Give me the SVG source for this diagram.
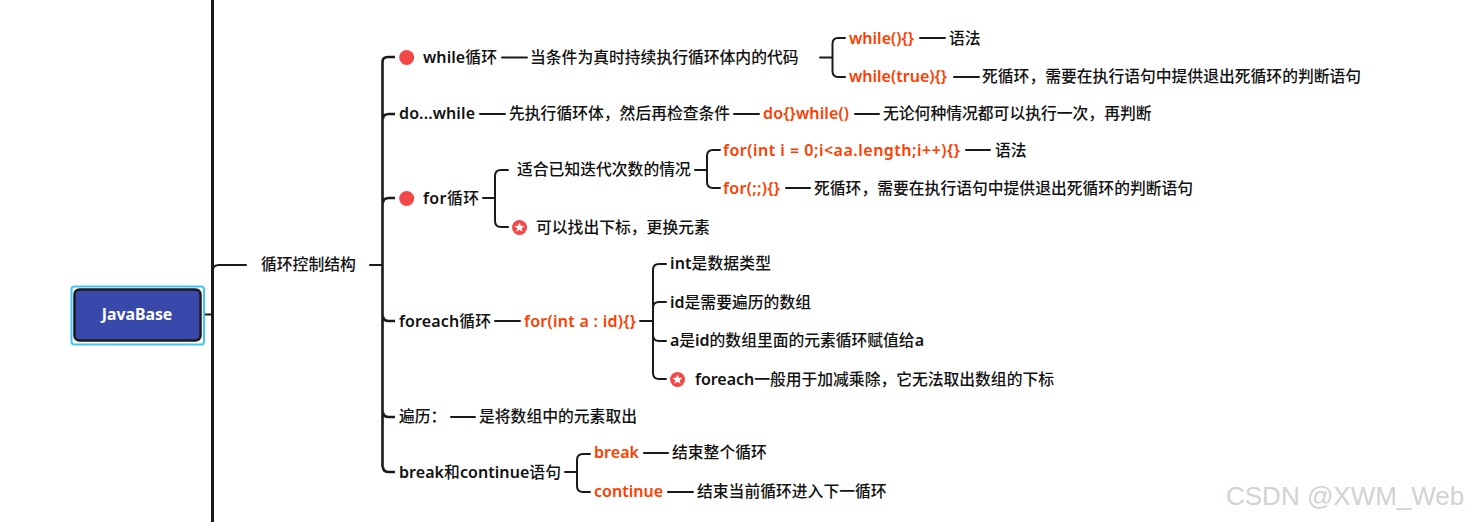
<svg xmlns="http://www.w3.org/2000/svg" width="1470" height="522" viewBox="0 0 1470 522">
<style>
text{font-family:"Noto Sans","Noto Sans CJK SC",sans-serif;font-size:15.8px;font-weight:500;fill:#111}
.r{fill:#ff3d00;font-weight:600;font-size:16px}
.b{font-weight:600;font-size:16px}
.l{fill:none;stroke:#1a1a1a;stroke-width:2;stroke-linecap:round}
.m{fill:none;stroke:#1a1a1a;stroke-width:2.6}
.d{fill:#f44848}
.s{fill:#fff}
</style>
<defs>
<g id="star"><circle class="d" r="7.5"/><path class="s" d="M0-5 1.4-1.7 5-1.5 2.2.8 3.1 4.2 0 2.3-3.1 4.2-2.2.8-5-1.5-1.4-1.7Z"/></g>
</defs>
<rect width="1470" height="522" fill="#fff"/>
<g id="connectors">
<path class="m" style="stroke-width:3" d="M212.5 0V522"/>
<path class="l" d="M202 314.500H212M213 270Q213 265 219 265H246M370 265H382"/>
<path class="m" d="M382.500 467V62Q382.500 57 388 57H395M383 119Q383 114 389 114H395M383 203Q383 198 389 198H395M383 316Q383 321 389 321H395M383 412Q383 417 389 417H395M383 467Q383 472 389 472H395"/>
<path class="l" d="M502 57.500H527M820 57.500H832M845 38H838Q832.500 38 832.500 44V71Q832.500 77 838 77H845M920 38H945M954 77H979"/>
<path class="l" d="M480 114H505M734 114H759M855 114H879"/>
<path class="l" d="M483 198H495M508 170H501Q495 170 495 176V221Q495 227 501 227H508M695 170H707M720 150H713Q707 150 707 156V182Q707 188 713 188H720M966 150H990M786 188H810"/>
<path class="l" d="M495 321H520M640 321H653M666 264H659Q653 264 653 270V373Q653 379 659 379H666M653 308Q653 302 659 302H666M653 335Q653 341 659 341H666"/>
<path class="l" d="M451 417H475"/>
<path class="l" d="M565 472H577M590 454H583Q577 454 577 460V486Q577 492 583 492H590M644 453H668M668 492H693"/>
</g>
<g id="root">
<rect x="71.500" y="286.500" width="132.500" height="58" rx="3" fill="#fff" stroke="#40c4ff" stroke-width="2"/>
<rect x="74.500" y="289.500" width="126" height="51" rx="5" fill="#3949ab" stroke="#1a1a1a" stroke-width="2.500"/>
<text x="137" y="319.500" text-anchor="middle" style="fill:#fff;font-weight:700">JavaBase</text>
</g>
<g id="n-loop"><text x="261" y="270">循环控制结构</text></g>
<g id="n-while"><circle class="d" cx="406.700" cy="57.500" r="7.500"/><text x="423" y="62.500" textLength="74"><tspan class="b">while</tspan>循环</text></g>
<g id="n-while-desc"><text x="530" y="62.500">当条件为真时持续执行循环体内的代码</text></g>
<g id="n-while-a"><text class="r" x="849" y="43.500" textLength="65">while(){}</text></g>
<g id="n-while-a1"><text x="949" y="43.500">语法</text></g>
<g id="n-while-b"><text class="r" x="849" y="82" textLength="98">while(true){}</text></g>
<g id="n-while-b1"><text x="982" y="82">死循环，需要在执行语句中提供退出死循环的判断语句</text></g>
<g id="n-do"><text class="b" x="399" y="119" textLength="76">do...while</text></g>
<g id="n-do1"><text x="509" y="119">先执行循环体，然后再检查条件</text></g>
<g id="n-do2"><text class="r" x="763" y="119" textLength="86">do{}while()</text></g>
<g id="n-do3"><text x="883" y="119">无论何种情况都可以执行一次，再判断</text></g>
<g id="n-for"><circle class="d" cx="406.700" cy="198.500" r="7.500"/><text x="423" y="203.500" textLength="56"><tspan class="b">for</tspan>循环</text></g>
<g id="n-for1"><text x="517" y="175">适合已知迭代次数的情况</text></g>
<g id="n-for1a"><text class="r" x="723" y="155.500" textLength="237">for(int i = 0;i&lt;aa.length;i++){}</text></g>
<g id="n-for1a1"><text x="995" y="155.500">语法</text></g>
<g id="n-for1b"><text class="r" x="723" y="193.500" textLength="57">for(;;){}</text></g>
<g id="n-for1b1"><text x="814" y="193.500">死循环，需要在执行语句中提供退出死循环的判断语句</text></g>
<g id="n-for2"><use href="#star" x="519.500" y="227.500"/><text x="536" y="232.500">可以找出下标，更换元素</text></g>
<g id="n-fe"><text x="399" y="326.500" textLength="92"><tspan class="b">foreach</tspan>循环</text></g>
<g id="n-fe1"><text class="r" x="524" y="326.500" textLength="112">for(int a : id){}</text></g>
<g id="n-fe1a"><text x="670" y="268.500" textLength="101"><tspan class="b">int</tspan>是数据类型</text></g>
<g id="n-fe1b"><text x="670" y="307.500" textLength="141"><tspan class="b">id</tspan>是需要遍历的数组</text></g>
<g id="n-fe1c"><text x="670" y="345.500" textLength="254"><tspan class="b">a</tspan>是<tspan class="b">id</tspan>的数组里面的元素循环赋值给<tspan class="b">a</tspan></text></g>
<g id="n-fe1d"><use href="#star" x="677.500" y="379.500"/><text x="695" y="384.500" textLength="359"><tspan class="b">foreach</tspan>一般用于加减乘除，它无法取出数组的下标</text></g>
<g id="n-tr"><text x="399" y="422">遍历：</text></g>
<g id="n-tr1"><text x="479" y="422">是将数组中的元素取出</text></g>
<g id="n-bc"><text x="399" y="477.500" textLength="162"><tspan class="b">break</tspan>和<tspan class="b">continue</tspan>语句</text></g>
<g id="n-b"><text class="r" x="594" y="458" textLength="45">break</text></g>
<g id="n-b1"><text x="672" y="458">结束整个循环</text></g>
<g id="n-c"><text class="r" x="594" y="497" textLength="69">continue</text></g>
<g id="n-c1"><text x="697" y="497">结束当前循环进入下一循环</text></g>
<text x="1226" y="505" style="font-family:'Liberation Sans',sans-serif;font-size:26px;font-weight:400;fill:#d2d2d2">CSDN @XWM_Web</text>
</svg>
